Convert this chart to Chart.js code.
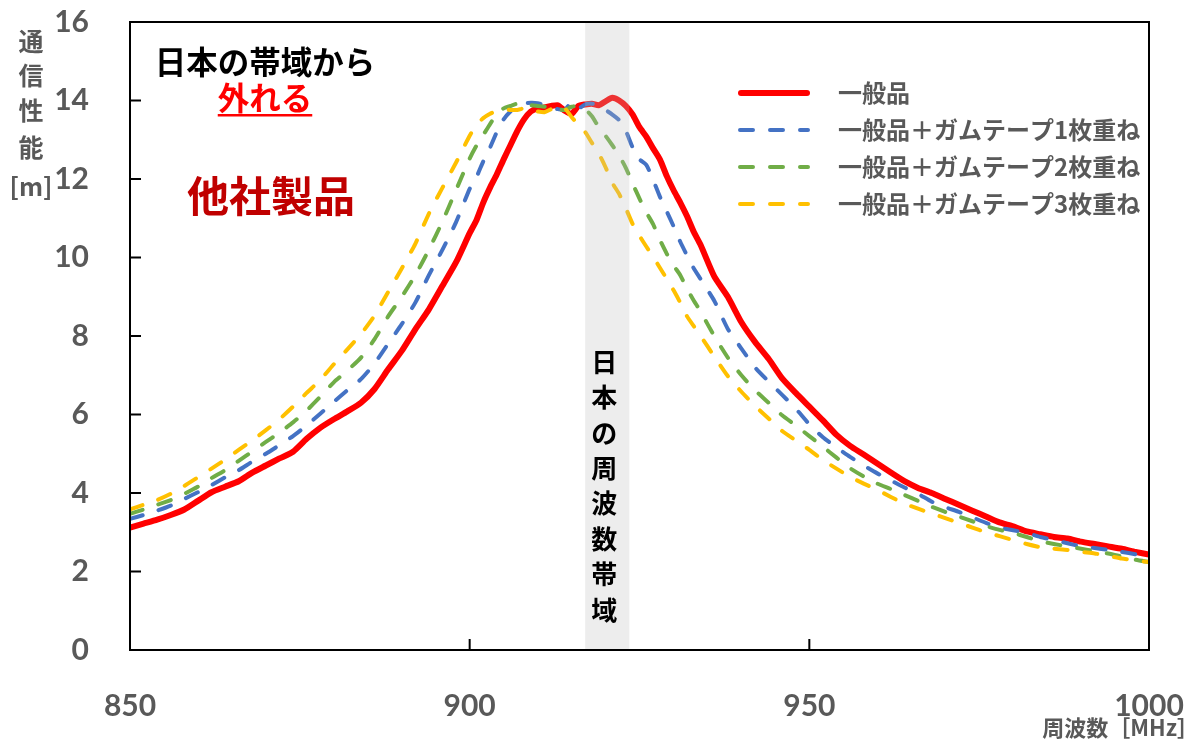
<!DOCTYPE html>
<html>
<head>
<meta charset="utf-8">
<script src="https://cdn.jsdelivr.net/npm/chart.js@4/dist/chart.umd.min.js"></script>
<style>
  html, body { margin: 0; padding: 0; background: #ffffff; }
  #c { display: block; }
</style>
</head>
<body>
<canvas id="c" width="1191" height="742"></canvas>
<script>
// ---------------- data ----------------
const freqs = [850,852,854,856,858,860,862,864,866,868,870,872,874,876,878,880,882,884,886,888,890,892,894,896,898,
  900,901,902,903,904,905,906,907,908,909,910,911,912,913,914,915,916,917,918,919,920,921,922,923,924,925,926,927,928,929,930,931,932,933,
  934,936,938,940,942,944,946,948,950,952,954,956,958,960,962,964,966,968,970,972,974,976,978,980,982,984,986,988,990,992,994,996,998,1000];

const general = [3.12,3.22,3.32,3.44,3.58,3.80,4.02,4.16,4.30,4.52,4.70,4.88,5.05,5.38,5.66,5.88,6.08,6.30,6.65,7.15,7.62,8.17,8.68,9.28,9.88,
  10.62,10.95,11.40,11.78,12.12,12.50,12.86,13.22,13.52,13.72,13.80,13.82,13.86,13.88,13.74,13.66,13.86,13.90,13.92,13.88,13.98,14.07,14.00,13.86,13.64,13.32,13.08,12.78,12.50,12.08,11.72,11.40,11.05,10.65,
  10.32,9.52,9.00,8.35,7.85,7.42,6.92,6.55,6.20,5.85,5.48,5.20,4.98,4.75,4.52,4.30,4.13,4.00,3.85,3.70,3.55,3.40,3.25,3.15,3.02,2.95,2.88,2.84,2.76,2.70,2.64,2.58,2.50,2.43];

const tape1 = [3.34,3.44,3.55,3.68,3.85,4.02,4.20,4.40,4.58,4.80,5.00,5.22,5.45,5.72,6.02,6.32,6.62,6.90,7.30,7.80,8.30,8.85,9.55,10.20,10.90,
  11.75,12.05,12.45,12.80,13.20,13.52,13.72,13.85,13.92,13.94,13.93,13.88,13.82,13.78,13.76,13.95,13.80,13.90,13.92,13.86,13.76,13.64,13.50,13.22,12.80,12.50,12.36,11.98,11.55,11.18,10.80,10.40,10.05,9.72,
  9.45,8.90,8.18,7.68,7.20,6.84,6.50,6.15,5.75,5.42,5.16,4.92,4.70,4.50,4.32,4.14,3.98,3.78,3.64,3.52,3.38,3.24,3.12,3.05,2.98,2.88,2.80,2.72,2.64,2.60,2.55,2.50,2.44,2.37];

const tape2 = [3.47,3.58,3.70,3.82,3.98,4.16,4.38,4.58,4.82,5.06,5.30,5.54,5.80,6.10,6.45,6.82,7.12,7.45,7.92,8.50,9.00,9.55,10.20,10.92,11.72,
  12.52,12.85,13.12,13.40,13.65,13.80,13.86,13.92,13.92,13.88,13.86,13.84,13.82,13.78,13.76,13.84,13.86,13.78,13.60,13.32,13.10,12.86,12.60,12.28,11.88,11.50,11.15,10.85,10.45,10.10,9.80,9.55,9.20,8.90,
  8.62,8.00,7.45,7.00,6.62,6.30,5.98,5.72,5.45,5.18,4.90,4.63,4.42,4.24,4.10,3.95,3.80,3.65,3.52,3.40,3.28,3.16,3.06,2.98,2.88,2.77,2.70,2.64,2.58,2.52,2.46,2.38,2.30,2.24];

const tape3 = [3.58,3.70,3.82,3.98,4.18,4.40,4.62,4.85,5.10,5.34,5.60,5.88,6.20,6.55,6.88,7.28,7.66,8.05,8.52,9.12,9.72,10.35,11.12,11.78,12.42,
  13.10,13.38,13.55,13.66,13.74,13.78,13.76,13.76,13.80,13.76,13.72,13.70,13.78,13.84,13.80,13.58,13.38,13.20,12.92,12.65,12.30,11.90,11.62,11.25,10.85,10.55,10.28,10.02,9.74,9.46,9.17,8.85,8.50,8.25,
  8.00,7.48,6.98,6.58,6.22,5.90,5.58,5.34,5.10,4.84,4.62,4.41,4.24,4.08,3.90,3.73,3.60,3.48,3.36,3.24,3.12,3.00,2.90,2.80,2.70,2.62,2.58,2.55,2.50,2.46,2.40,2.33,2.28,2.24];

const seriesNames = ['一般品', '一般品＋ガムテープ1枚重ね', '一般品＋ガムテープ2枚重ね', '一般品＋ガムテープ3枚重ね'];
const xTickValues = [850, 900, 950, 1000];
const yTickValues = [0, 2, 4, 6, 8, 10, 12, 14, 16];
const japanBand = [917.0, 923.5];
const yTitleChars = ['通', '信', '性', '能', '[m]'];
const xTitle = '周波数［MHz］';
const bandLabel = ['日', '本', 'の', '周', '波', '数', '帯', '域'];

// ---------------- chart ----------------
const toXY = vals => freqs.map((f, i) => ({ x: f, y: vals[i] }));
const CJK = '"Noto Sans CJK JP", "Noto Sans", sans-serif';
const GREY = '#595959';

const decor = {
  id: 'decor',
  afterDatasetsDraw(chart) {
    const { ctx, chartArea: a, scales: { x, y } } = chart;
    ctx.save();
    // Japanese band (overlaid translucent grey)
    const bx0 = x.getPixelForValue(japanBand[0]);
    const bx1 = x.getPixelForValue(japanBand[1]);
    ctx.fillStyle = 'rgba(190,190,190,0.27)';
    ctx.fillRect(bx0, a.top, bx1 - bx0, a.bottom - a.top);

    // frame
    ctx.strokeStyle = '#000';
    ctx.lineWidth = 2;
    ctx.strokeRect(a.left, a.top, a.right - a.left, a.bottom - a.top);
    // inward ticks
    ctx.beginPath();
    xTickValues.forEach(v => {
      const px = x.getPixelForValue(v);
      ctx.moveTo(px, a.bottom); ctx.lineTo(px, a.bottom - 11);
    });
    yTickValues.forEach(v => {
      const py = y.getPixelForValue(v);
      ctx.moveTo(a.left, py); ctx.lineTo(a.left + 11, py);
    });
    ctx.stroke();

    // vertical band label
    ctx.fillStyle = '#000';
    ctx.font = 'bold 26px ' + CJK;
    ctx.textAlign = 'center';
    ctx.textBaseline = 'middle';
    const bcx = (bx0 + bx1) / 2 - 3;
    bandLabel.forEach((ch, i) => ctx.fillText(ch, bcx, 362 + i * 35.4));

    // annotations
    ctx.fillStyle = '#000';
    ctx.font = 'bold 31.5px ' + CJK;
    ctx.fillText('日本の帯域から', 265, 62);
    ctx.fillStyle = '#FF0000';
    ctx.fillText('外れる', 265, 98);
    const w = ctx.measureText('外れる').width;
    ctx.fillRect(265 - w / 2, 114, w, 2.5);
    ctx.fillStyle = '#C00000';
    ctx.font = 'bold 42px ' + CJK;
    ctx.fillText('他社製品', 271, 196);

    // legend
    const ds = chart.data.datasets;
    const legY = [93, 130, 167, 204];
    ds.forEach((d, i) => {
      ctx.save();
      ctx.strokeStyle = d.borderColor;
      ctx.lineWidth = d.borderWidth;
      ctx.lineCap = 'round';
      ctx.setLineDash(d.borderDash || []);
      ctx.beginPath();
      if (d.borderDash && d.borderDash.length) { ctx.moveTo(740, legY[i]); ctx.lineTo(808, legY[i]); }
      else { ctx.moveTo(741, legY[i]); ctx.lineTo(807, legY[i]); }
      ctx.stroke();
      ctx.restore();
      ctx.fillStyle = GREY;
      ctx.font = 'bold 24px ' + CJK;
      ctx.textAlign = 'left';
      ctx.textBaseline = 'middle';
      ctx.fillText(d.label, 838, legY[i]);
    });

    // axis titles
    ctx.fillStyle = GREY;
    ctx.textAlign = 'center';
    ctx.font = 'bold 25px ' + CJK;
    const yPos = [41, 75, 110, 147, 186];
    yTitleChars.forEach((ch, i) => ctx.fillText(ch, 31, yPos[i]));
    ctx.textAlign = 'right';
    ctx.font = 'bold 22px ' + CJK;
    ctx.fillText(xTitle, 1199, 728);
    ctx.restore();
  }
};

const tickFont = { family: 'Lato, "Open Sans", sans-serif', weight: 'bold', size: 30 };
const zeroPad = s => { s.paddingLeft = 0; s.paddingRight = 0; s.paddingTop = 0; s.paddingBottom = 0; };

new Chart(document.getElementById('c'), {
  type: 'line',
  data: {
    datasets: [
      { label: seriesNames[0], data: toXY(general), borderColor: '#FF0000', borderWidth: 6, order: 10 },
      { label: seriesNames[1], data: toXY(tape1), borderColor: '#4472C4', borderWidth: 4, borderDash: [13, 17], order: 3 },
      { label: seriesNames[2], data: toXY(tape2), borderColor: '#70AD47', borderWidth: 4, borderDash: [13, 17], order: 2 },
      { label: seriesNames[3], data: toXY(tape3), borderColor: '#FFC000', borderWidth: 4, borderDash: [13, 17], order: 1 }
    ]
  },
  options: {
    responsive: false,
    devicePixelRatio: 1,
    animation: false,
    layout: { padding: { left: 0, top: 22, right: 42, bottom: 0 } },
    elements: {
      point: { radius: 0, hoverRadius: 0 },
      line: { tension: 0.2, borderCapStyle: 'round', borderJoinStyle: 'round', fill: false }
    },
    plugins: { legend: { display: false }, tooltip: { enabled: false } },
    scales: {
      x: {
        type: 'linear', min: 850, max: 1000,
        afterBuildTicks: s => { s.ticks = xTickValues.map(v => ({ value: v })); },
        afterFit: s => { s.height = 92; zeroPad(s); },
        ticks: { font: tickFont, color: GREY, padding: 30, maxRotation: 0, autoSkip: false, callback: v => String(v) },
        grid: { display: false },
        border: { display: false }
      },
      y: {
        type: 'linear', min: 0, max: 16,
        afterBuildTicks: s => { s.ticks = yTickValues.map(v => ({ value: v })); },
        afterFit: s => { s.width = 130; zeroPad(s); },
        ticks: { font: tickFont, color: GREY, padding: 33, autoSkip: false, callback: v => String(v) },
        grid: { display: false },
        border: { display: false }
      }
    }
  },
  plugins: [decor]
});
</script>
</body>
</html>
